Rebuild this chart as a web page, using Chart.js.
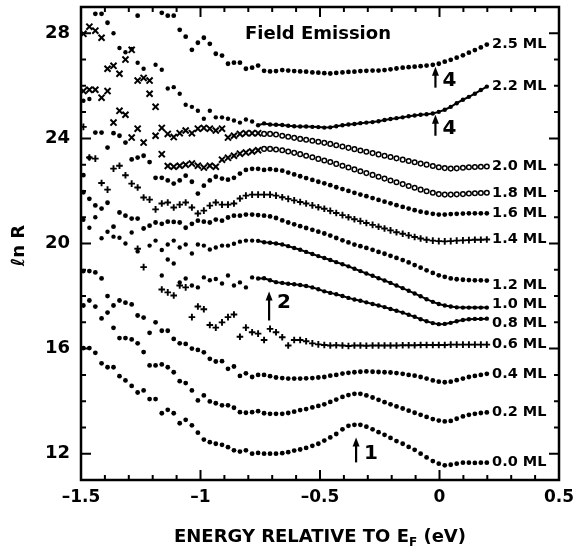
<!DOCTYPE html>
<html>
<head>
<meta charset="utf-8">
<title>Field Emission</title>
<script src="https://cdn.jsdelivr.net/npm/chart.js@4.4.1/dist/chart.umd.min.js"></script>
<style>
  html, body { margin: 0; padding: 0; background: #fff; }
  canvas { display: block; }
</style>
</head>
<body>
<canvas id="fe-chart" width="576" height="557"></canvas>
<script>
// energy grid (eV relative to E_F), one entry per measured point
var energy = [-1.49, -1.465, -1.44, -1.414, -1.389, -1.364, -1.339, -1.314, -1.288, -1.263,
  -1.238, -1.213, -1.188, -1.162, -1.137, -1.112, -1.087, -1.062, -1.036, -1.011,
  -0.986, -0.961, -0.936, -0.910, -0.885, -0.860, -0.835, -0.810, -0.784, -0.759,
  -0.734, -0.709, -0.684, -0.658, -0.633, -0.608, -0.583, -0.558, -0.532, -0.507,
  -0.482, -0.457, -0.432, -0.406, -0.381, -0.356, -0.331, -0.306, -0.280, -0.255,
  -0.230, -0.205, -0.180, -0.154, -0.129, -0.104, -0.079, -0.054, -0.028, -0.003,
  0.022, 0.047, 0.072, 0.098, 0.123, 0.148, 0.173, 0.198];

// ln R for each coverage
var ml25 = [null, null, 28.74, 28.74, 28.4, null, null, null, null, 28.67,
  null, null, null, 28.78, 28.67, 28.67, 28.13, 27.87, 27.37, 27.64,
  27.83, 27.6, 27.22, 27.15, 26.84, 26.88, 26.88, 26.65, 26.69, 26.77,
  26.57, 26.55, 26.56, 26.6, 26.58, 26.56, 26.55, 26.54, 26.51, 26.5,
  26.48, 26.47, 26.49, 26.51, 26.53, 26.54, 26.56, 26.57, 26.58, 26.58,
  26.6, 26.63, 26.66, 26.69, 26.71, 26.73, 26.75, 26.77, 26.8, 26.84,
  26.92, 26.99, 27.07, 27.16, 27.26, 27.36, 27.46, 27.57];

var ml22 = [25.43, 25.5, null, null, null, 28.0, 27.44, 27.28, 27.4, 26.88,
  26.65, null, 26.8, 26.61, 25.9, 25.95, 25.7, 25.28, 25.2, 25.05,
  24.75, 25.05, 24.8, 24.8, 24.75, 24.68, 24.6, 24.72, 24.64, 24.5,
  24.57, 24.53, 24.52, 24.51, 24.48, 24.46, 24.45, 24.45, 24.44, 24.43,
  24.41, 24.42, 24.46, 24.5, 24.53, 24.55, 24.58, 24.6, 24.62, 24.65,
  24.7, 24.74, 24.77, 24.8, 24.84, 24.87, 24.9, 24.92, 24.95, 25.01,
  25.09, 25.2, 25.34, 25.47, 25.58, 25.7, 25.84, 25.97];

var ml20 = [27.98, 28.25, 28.1, 27.83, 26.65, 26.76, 26.46, 27.0, 27.37, 26.2,
  26.3, 26.2, 25.2, 24.4, 24.17, 24.05, 24.2, 24.3, 24.2, 24.37,
  24.4, 24.37, 24.3, 24.37, 24.03, 24.1, 24.17, 24.2, 24.2, 24.2,
  24.17, 24.17, 24.15, 24.1, 24.06, 24.02, 23.98, 23.95, 23.91, 23.87,
  23.83, 23.79, 23.74, 23.69, 23.64, 23.59, 23.54, 23.49, 23.44, 23.39,
  23.34, 23.29, 23.24, 23.19, 23.14, 23.09, 23.04, 23.0, 22.95, 22.9,
  22.87, 22.85, 22.86, 22.88, 22.9, 22.91, 22.92, 22.93];

var ml18 = [25.8, 25.85, 25.85, 25.55, 25.8, 24.6, 25.05, 24.9, 24.03, 24.37,
  23.84, 25.7, 24.1, 23.4, 22.95, 22.92, 22.96, 23.0, 23.04, 22.96,
  22.89, 22.96, 22.92, 23.19, 23.26, 23.34, 23.42, 23.46, 23.5, 23.55,
  23.6, 23.6, 23.58, 23.55, 23.5, 23.45, 23.4, 23.34, 23.28, 23.22,
  23.16, 23.1, 23.03, 22.96, 22.89, 22.82, 22.75, 22.68, 22.61, 22.54,
  22.47, 22.4, 22.33, 22.26, 22.19, 22.12, 22.05, 21.99, 21.93, 21.88,
  21.86, 21.86, 21.87, 21.88, 21.9, 21.91, 21.92, 21.93];

var ml16 = [22.6, 23.26, 24.22, 24.22, 23.65, 24.2, 24.1, 23.84, 23.2, 23.27,
  23.34, 23.1, 22.5, 22.5, 22.4, 22.28, 22.4, 22.58, 22.35, 21.9,
  22.2, 22.4, 22.54, 22.47, 22.43, 22.5, 22.66, 22.8, 22.84, 22.84,
  22.8, 22.83, 22.8, 22.77, 22.7, 22.63, 22.56, 22.49, 22.42, 22.35,
  22.29, 22.22, 22.14, 22.07, 22.0, 21.93, 21.86, 21.8, 21.73, 21.66,
  21.59, 21.53, 21.46, 21.39, 21.33, 21.27, 21.21, 21.17, 21.13, 21.1,
  21.1, 21.12, 21.13, 21.14, 21.15, 21.15, 21.15, 21.15];

var ml14 = [24.44, 23.27, 23.23, 22.3, 22.05, 22.85, 22.96, 22.6, 22.28, 22.13,
  21.75, 21.67, 21.3, 21.52, 21.56, 21.37, 21.48, 21.56, 21.37, 21.14,
  21.25, 21.44, 21.56, 21.48, 21.48, 21.52, 21.71, 21.82, 21.86, 21.86,
  21.86, 21.86, 21.82, 21.76, 21.7, 21.64, 21.58, 21.52, 21.45, 21.38,
  21.32, 21.24, 21.16, 21.08, 21.0, 20.92, 20.85, 20.78, 20.71, 20.64,
  20.57, 20.5, 20.43, 20.37, 20.31, 20.25, 20.19, 20.14, 20.11, 20.09,
  20.08, 20.09, 20.11, 20.12, 20.13, 20.14, 20.14, 20.15];

var ml12 = [21.95, 21.7, 21.45, 21.33, 21.55, 20.64, 21.18, 21.06, 20.95, 20.95,
  20.57, 20.68, 20.8, 20.75, 20.83, 20.82, 20.8, 20.6, 20.75, 20.87,
  20.83, 20.8, 20.91, 20.87, 20.99, 21.06, 21.06, 21.1, 21.1, 21.08,
  21.06, 21.03, 20.97, 20.88, 20.8, 20.73, 20.66, 20.59, 20.52, 20.45,
  20.38, 20.3, 20.21, 20.12, 20.04, 19.96, 19.9, 19.83, 19.76, 19.68,
  19.61, 19.53, 19.45, 19.37, 19.28, 19.18, 19.08, 18.98, 18.88, 18.79,
  18.73, 18.67, 18.64, 18.62, 18.61, 18.6, 18.6, 18.59];

var ml10 = [20.9, 20.6, 21.0, 20.2, 20.45, 20.26, 20.22, 20.0, 20.42, 19.7,
  null, 19.92, 20.11, 19.75, 19.96, 20.11, 19.85, 19.96, 19.62, 19.96,
  19.92, 19.77, 19.85, 19.92, 19.92, 19.99, 20.07, 20.11, 20.11, 20.1,
  20.05, 20.03, 20.0, 19.96, 19.9, 19.83, 19.76, 19.68, 19.6, 19.52,
  19.45, 19.37, 19.29, 19.21, 19.13, 19.04, 18.95, 18.86, 18.77, 18.68,
  18.59, 18.5, 18.4, 18.3, 18.2, 18.1, 17.99, 17.88, 17.78, 17.7,
  17.64, 17.6, 17.57, 17.56, 17.56, 17.56, 17.56, 17.56];

var ml08 = [null, null, null, null, null, null, null, null, null, null,
  null, null, null, 18.78, 19.39, 19.24, 18.52, 18.67, 18.4, 18.33,
  18.71, 18.6, 18.65, 18.48, 18.78, 18.4, 18.52, 18.33, 18.71, 18.67,
  18.68, 18.6, 18.53, 18.5, 18.47, 18.45, 18.42, 18.38, 18.33, 18.26,
  18.18, 18.12, 18.07, 18.0, 17.93, 17.87, 17.82, 17.76, 17.7, 17.64,
  17.58, 17.51, 17.44, 17.37, 17.29, 17.21, 17.12, 17.04, 16.97, 16.93,
  16.94, 16.98, 17.04, 17.09, 17.12, 17.13, 17.13, 17.14];

var ml06 = [null, null, null, null, null, null, null, null, null, 19.8,
  19.1, null, null, 18.25, 18.14, 18.02, 18.4, 18.33, 17.2, 17.6,
  17.5, 16.9, 16.8, 17.0, 17.2, 17.3, 16.45, 16.8, 16.62, 16.57,
  16.33, 16.75, 16.62, 16.43, 16.12, 16.33, 16.33, 16.28, 16.2, 16.16,
  16.14, 16.12, 16.13, 16.12, 16.1, 16.12, 16.12, 16.11, 16.12, 16.12,
  16.12, 16.12, 16.12, 16.13, 16.13, 16.13, 16.14, 16.14, 16.14, 16.14,
  16.14, 16.15, 16.15, 16.15, 16.15, 16.15, 16.15, 16.15];

var ml04 = [18.95, 18.95, 18.9, 18.67, 18.0, 17.64, 17.83, 17.75, 17.68, 17.26,
  17.18, 16.6, 17.0, 16.68, 16.68, 16.37, 16.2, 16.18, 16.0, 15.95,
  15.86, 15.61, 15.51, 15.52, 15.23, 15.32, 14.96, 15.06, 14.92, 15.0,
  15.0, 14.95, 14.9, 14.88, 14.86, 14.86, 14.86, 14.87, 14.88, 14.9,
  14.92, 14.97, 15.0, 15.05, 15.08, 15.1, 15.12, 15.13, 15.12, 15.11,
  15.1, 15.09, 15.07, 15.04, 15.0, 14.97, 14.92, 14.86, 14.79, 14.74,
  14.72, 14.74, 14.8, 14.86, 14.92, 14.96, 15.0, 15.04];

var ml02 = [17.64, 17.83, 17.6, 17.15, 17.37, 16.79, 16.4, 16.4, 16.35, 16.2,
  15.87, 15.36, 15.36, 15.4, 15.29, 15.1, 14.76, 14.69, 14.41, 14.03,
  14.22, 13.99, 13.92, 13.84, 13.84, 13.75, 13.58, 13.56, 13.58, 13.62,
  13.54, 13.52, 13.52, 13.52, 13.55, 13.6, 13.66, 13.7, 13.76, 13.82,
  13.88, 13.97, 14.06, 14.16, 14.23, 14.28, 14.28, 14.22, 14.14, 14.05,
  13.96, 13.88, 13.8, 13.72, 13.64, 13.56, 13.48, 13.4, 13.32, 13.26,
  13.23, 13.25, 13.33, 13.42, 13.48, 13.52, 13.55, 13.57];

var ml00 = [16.02, 16.02, 15.84, 15.44, 15.29, 15.29, 14.95, 14.79, 14.58, 14.33,
  14.41, 14.08, 14.08, 13.54, 13.67, 13.54, 13.16, 13.29, 13.08, 12.8,
  12.54, 12.44, 12.38, 12.34, 12.25, 12.13, 12.08, 12.13, 12.0, 12.03,
  12.0, 12.0, 12.0, 12.02, 12.06, 12.12, 12.16, 12.22, 12.3, 12.38,
  12.5, 12.62, 12.75, 12.93, 13.06, 13.1, 13.1, 13.03, 12.93, 12.82,
  12.72, 12.6, 12.48, 12.38, 12.26, 12.15, 12.0, 11.86, 11.72, 11.62,
  11.56, 11.58, 11.62, 11.66, 11.66, 11.65, 11.66, 11.66];

var xTicks = [-1.5, -1, -0.5, 0, 0.5];
var yTicks = [12, 16, 20, 24, 28];

var FONT = "'DejaVu Sans', 'Liberation Sans', sans-serif";

// marker per curve: dot, heavy (dense dots), plus, ex
var series = [
  ['2.5 ML', ml25, 'dot'],
  ['2.2 ML', ml22, 'heavy'],
  ['2.0 ML', ml20, 'ex'],
  ['1.8 ML', ml18, 'ex'],
  ['1.6 ML', ml16, 'dot'],
  ['1.4 ML', ml14, 'plus'],
  ['1.2 ML', ml12, 'dot'],
  ['1.0 ML', ml10, 'heavy'],
  ['0.8 ML', ml08, 'heavy'],
  ['0.6 ML', ml06, 'plus'],
  ['0.4 ML', ml04, 'dot'],
  ['0.2 ML', ml02, 'dot'],
  ['0.0 ML', ml00, 'dot']
];

// small vertical shifts where curve labels crowd each other
var labelNudge = { '1.2 ML': 5, '1.0 ML': -3, '0.8 ML': 5 };

var arrows = [
  { e: -0.017, tip: 26.73, base: 25.93, text: '4', te: 0.042, tv: 26.2 },
  { e: -0.017, tip: 24.9, base: 24.1, text: '4', te: 0.042, tv: 24.37 },
  { e: -0.713, tip: 18.17, base: 17.07, text: '2', te: -0.651, tv: 17.75 },
  { e: -0.349, tip: 12.62, base: 11.67, text: '1', te: -0.287, tv: 12.0 }
];

var isLeft = function (c) { return c.raw && c.raw.x < -0.75; };

var makeDataset = function (label, values, mark) {
  var ds = {
    label: label,
    data: energy.map(function (e, i) { return { x: e, y: values[i] }; }),
    borderColor: '#000',
    backgroundColor: '#000',
    pointBorderColor: '#000',
    pointBackgroundColor: '#000',
    showLine: false,
    pointStyle: 'circle',
    pointRadius: 2.4,
    pointBorderWidth: 0
  };
  if (mark === 'plus') {
    ds.pointStyle = 'cross';
    ds.pointRadius = 3.3;
    ds.pointBorderWidth = 1.9;
  }
  if (mark === 'ex') {
    ds.pointStyle = function (c) { return isLeft(c) ? 'crossRot' : 'circle'; };
    ds.pointRadius = function (c) { return isLeft(c) ? 4.3 : 2.3; };
    ds.pointBackgroundColor = function (c) { return isLeft(c) ? '#000' : '#fff'; };
    ds.pointBorderWidth = function (c) { return isLeft(c) ? 2 : 1.5; };
  }
  if (mark === 'heavy') {
    ds.showLine = true;
    ds.borderWidth = 2;
    ds.pointRadius = 2.2;
    ds.segment = {
      borderColor: function (c) { return c.p0.parsed.x < -0.78 ? 'rgba(0,0,0,0)' : '#000'; }
    };
  }
  return ds;
};

var drawFrame = function (chart) {
  var ctx = chart.ctx, a = chart.chartArea, xs = chart.scales.x, ys = chart.scales.y;
  ctx.save();
  ctx.strokeStyle = '#000';
  ctx.lineWidth = 2.5;
  ctx.strokeRect(a.left, a.top, a.right - a.left, a.bottom - a.top);

  ctx.lineWidth = 2;
  ctx.beginPath();
  for (var k = -15; k <= 5; k++) {
    var px = xs.getPixelForValue(k / 10);
    var lx = k % 5 === 0 ? 10 : 5;
    ctx.moveTo(px, a.bottom); ctx.lineTo(px, a.bottom - lx);
    ctx.moveTo(px, a.top); ctx.lineTo(px, a.top + lx);
  }
  for (var v = 11; v <= 29; v++) {
    var py = ys.getPixelForValue(v);
    var ly = v % 4 === 0 ? 10 : 5;
    ctx.moveTo(a.left, py); ctx.lineTo(a.left + ly, py);
    ctx.moveTo(a.right, py); ctx.lineTo(a.right - ly, py);
  }
  ctx.stroke();
  ctx.restore();
};

var drawArrow = function (ctx, x, yTip, yBase) {
  ctx.beginPath();
  ctx.moveTo(x, yTip);
  ctx.lineTo(x - 3.5, yTip + 9);
  ctx.lineTo(x + 3.5, yTip + 9);
  ctx.closePath();
  ctx.fill();
  ctx.lineWidth = 2.2;
  ctx.beginPath();
  ctx.moveTo(x, yTip + 8);
  ctx.lineTo(x, yBase);
  ctx.stroke();
};

var annotate = {
  id: 'annotate',
  afterDraw: function (chart) {
    var ctx = chart.ctx, a = chart.chartArea, xs = chart.scales.x, ys = chart.scales.y;
    drawFrame(chart);

    ctx.save();
    ctx.fillStyle = '#000';
    ctx.strokeStyle = '#000';

    // coverage labels at the end of each curve
    ctx.font = 'bold 14.5px ' + FONT;
    ctx.textAlign = 'left';
    ctx.textBaseline = 'middle';
    chart.data.datasets.forEach(function (ds) {
      var last = ds.data[ds.data.length - 1].y;
      ctx.fillText(ds.label, xs.getPixelForValue(0.22), ys.getPixelForValue(last) + (labelNudge[ds.label] || 0));
    });

    ctx.font = 'bold 18px ' + FONT;
    ctx.fillText('Field Emission', xs.getPixelForValue(-0.814), ys.getPixelForValue(27.96));

    // feature arrows
    ctx.font = 'bold 20px ' + FONT;
    ctx.textAlign = 'center';
    arrows.forEach(function (ar) {
      drawArrow(ctx, xs.getPixelForValue(ar.e), ys.getPixelForValue(ar.tip), ys.getPixelForValue(ar.base));
      ctx.fillText(ar.text, xs.getPixelForValue(ar.te), ys.getPixelForValue(ar.tv));
    });

    // y axis title
    ctx.save();
    ctx.translate(19, (a.top + a.bottom) / 2 + 2);
    ctx.rotate(-Math.PI / 2);
    ctx.font = 'bold 18px ' + FONT;
    ctx.textAlign = 'center';
    ctx.fillText('\u2113n R', 0, 0);
    ctx.restore();

    // x axis title with subscript F
    var big = 'bold 18px ' + FONT, small = 'bold 12px ' + FONT;
    var partA = 'ENERGY RELATIVE TO E', partB = 'F', partC = ' (eV)';
    ctx.font = big;
    var wA = ctx.measureText(partA).width, wC = ctx.measureText(partC).width;
    ctx.font = small;
    var wB = ctx.measureText(partB).width;
    var x0 = (a.left + a.right) / 2 - (wA + wB + wC) / 2, yT = 537;
    ctx.textAlign = 'left';
    ctx.textBaseline = 'middle';
    ctx.font = big;
    ctx.fillText(partA, x0, yT);
    ctx.font = small;
    ctx.fillText(partB, x0 + wA, yT + 6);
    ctx.font = big;
    ctx.fillText(partC, x0 + wA + wB, yT);
    ctx.restore();
  }
};

new Chart(document.getElementById('fe-chart'), {
  type: 'scatter',
  data: {
    datasets: series.map(function (s) { return makeDataset(s[0], s[1], s[2]); })
  },
  options: {
    responsive: false,
    animation: false,
    events: [],
    layout: { padding: { left: 0, right: 17, top: 7, bottom: 0 } },
    plugins: { legend: { display: false }, tooltip: { enabled: false } },
    scales: {
      x: {
        type: 'linear',
        min: -1.5,
        max: 0.5,
        grid: { display: false, drawTicks: false },
        border: { display: false },
        afterBuildTicks: function (s) { s.ticks = xTicks.map(function (v) { return { value: v }; }); },
        afterFit: function (s) { s.height = 77; s.paddingLeft = 0; s.paddingRight = 0; },
        ticks: {
          color: '#000',
          padding: 7,
          maxRotation: 0,
          autoSkip: false,
          font: { family: FONT, size: 17, weight: 'bold' },
          callback: function (v) { return v < 0 ? '\u2013' + Math.abs(v) : String(v); }
        }
      },
      y: {
        type: 'linear',
        min: 11,
        max: 29,
        grid: { display: false, drawTicks: false },
        border: { display: false },
        afterBuildTicks: function (s) { s.ticks = yTicks.map(function (v) { return { value: v }; }); },
        afterFit: function (s) { s.width = 81; s.paddingTop = 0; s.paddingBottom = 0; },
        ticks: {
          color: '#000',
          padding: 11,
          font: { family: FONT, size: 18, weight: 'bold' },
          callback: function (v) { return String(v); }
        }
      }
    }
  },
  plugins: [annotate]
});
</script>
</body>
</html>
